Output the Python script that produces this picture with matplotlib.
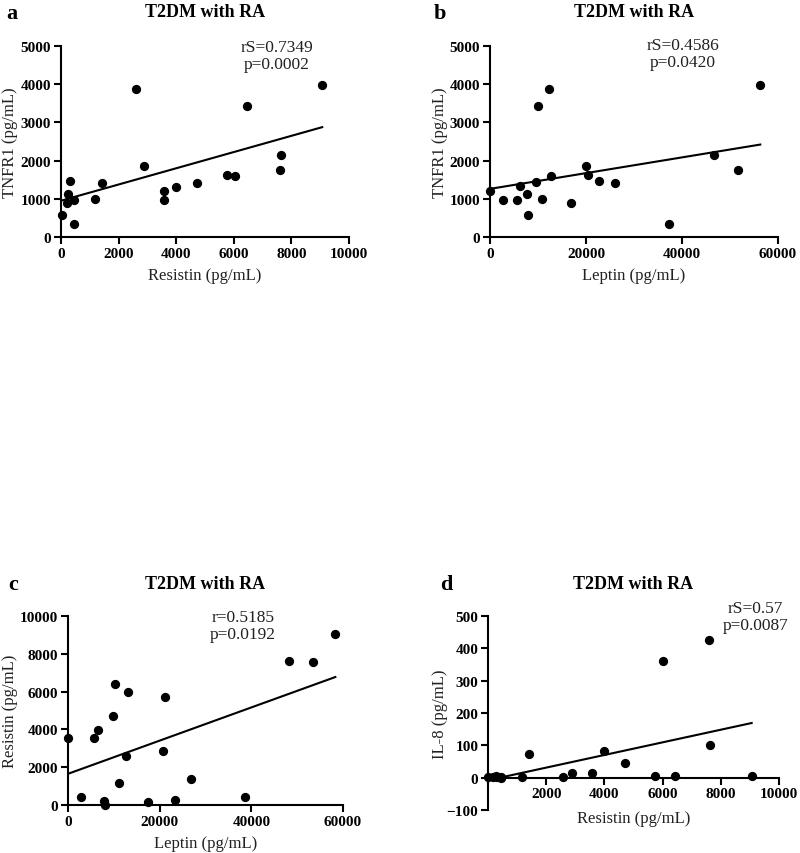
import matplotlib
matplotlib.use('Agg')
import matplotlib.pyplot as plt
import numpy as np

plt.rcParams['font.family'] = ['Liberation Serif', 'DejaVu Serif']

# panel a: TNFR1 vs Resistin
a_resistin = [20, 200, 250, 310, 450, 460, 1180, 1410, 2600, 2890, 3580, 3580,
              3990, 4730, 5750, 6030, 6450, 7600, 7640, 9070]
a_tnfr1 = [570, 897, 1132, 1472, 958, 348, 1002, 1402, 3876, 1847, 1193, 967,
           1315, 1420, 1620, 1603, 3423, 1742, 2152, 3972]
a_fit = (950, 0.2123)  # intercept, slope

# panel b: TNFR1 vs Leptin
b_leptin = [0, 2770, 5620, 6310, 7700, 7900, 9500, 9920, 10890, 12340, 12690,
            16920, 20040, 20460, 22680, 25940, 37310, 46670, 51660, 56310]
b_tnfr1 = [1202, 967, 976, 1324, 1132, 566, 1429, 3423, 1002, 3876, 1603,
           897, 1847, 1620, 1472, 1402, 348, 2152, 1742, 3972]
b_fit = (1260, 0.0206)

# panel c: Resistin vs Leptin
c_leptin = [0, 2760, 5750, 6470, 7850, 8150, 9750, 10250, 11200, 12580, 13020,
            17380, 20650, 21090, 23350, 26760, 38550, 48290, 53450, 58330]
c_resistin = [3526, 421, 3526, 3965, 228, 0, 4702, 6386, 1140, 2579, 5982,
              158, 2860, 5702, 281, 1368, 438, 7630, 7580, 9050]
c_fit = (1650, 0.0878)

# panel d: IL-8 vs Resistin
d_resistin = [0, 170, 260, 320, 435, 460, 1170, 1400, 2590, 2875, 3560, 3990,
              4720, 5740, 6010, 6430, 7580, 7630, 9060]
d_il8 = [2, 3, 5, 3, 0, 2, 2, 73, 3, 14, 15, 81, 46, 6, 360, 6, 427, 100, 4]
d_fit = (-8, 0.01954)

W, H = 800, 854
fig = plt.figure(figsize=(W / 100, H / 100), dpi=100)


def box(x0, x1, ytop, ybot):
    return [x0 / W, 1 - ybot / H, (x1 - x0) / W, (ybot - ytop) / H]


def panel(rect, x, y, fit, xlim, xticks, ylim, yticks, xlabel, ylabel,
          stat, stat_x, stat_y, ylab_x, xlab_y, title_y):
    ax = fig.add_axes(rect)
    ax.scatter(x, y, s=32, color='black', zorder=3, clip_on=False)
    xs = np.array([min(x), max(x)])
    ax.plot(xs, fit[0] + fit[1] * xs, color='black', lw=1.5, zorder=2)
    ax.set_xlim(*xlim)
    ax.set_ylim(*ylim)
    ax.set_xticks(xticks)
    ax.set_yticks(yticks)
    for s in ['top', 'right']:
        ax.spines[s].set_visible(False)
    for s in ['left', 'bottom']:
        ax.spines[s].set_linewidth(1.5)
    ax.tick_params(direction='out', length=5, width=1.5, labelsize=11, pad=2)
    for lab in ax.get_xticklabels() + ax.get_yticklabels():
        lab.set_fontweight('bold')
    ax.set_xlabel(xlabel, fontsize=12, color='#222222', va='center')
    ax.set_ylabel(ylabel, fontsize=12, color='#222222', va='center')
    ax.yaxis.set_label_coords(ylab_x, 0.5)
    ax.xaxis.set_label_coords(0.5, xlab_y)
    ax.text(stat_x, stat_y, stat, transform=ax.transAxes, ha='center', va='top',
            fontsize=12.5, color='#222222', linespacing=1.05)
    ax.text(0.5, title_y, 'T2DM with RA', transform=ax.transAxes, ha='center',
            va='center', fontsize=13, fontweight='bold')
    return ax


axa = panel(box(61, 349, 47, 238), a_resistin, a_tnfr1, a_fit,
            (0, 10000), range(0, 10001, 2000), (0, 5000), range(0, 5001, 1000),
            'Resistin (pg/mL)', 'TNFR1 (pg/mL)', 'rS=0.7349\np=0.0002',
            0.75, 1.035, -0.177, -0.2, 1.18)
axb = panel(box(490, 778, 47, 238), b_leptin, b_tnfr1, b_fit,
            (0, 60000), range(0, 60001, 20000), (0, 5000), range(0, 5001, 1000),
            'Leptin (pg/mL)', 'TNFR1 (pg/mL)', 'rS=0.4586\np=0.0420',
            0.67, 1.045, -0.174, -0.2, 1.18)
axc = panel(box(68, 343, 617, 806), c_leptin, c_resistin, c_fit,
            (0, 60000), range(0, 60001, 20000), (0, 10000), range(0, 10001, 2000),
            'Leptin (pg/mL)', 'Resistin (pg/mL)', 'r=0.5185\np=0.0192',
            0.636, 1.035, -0.21, -0.2, 1.17)
axd = panel(box(488, 779, 617, 811), d_resistin, d_il8, d_fit,
            (0, 10000), range(0, 10001, 2000), (-100, 500), range(-100, 501, 100),
            'Resistin (pg/mL)', 'IL-8 (pg/mL)', 'rS=0.57\np=0.0087',
            0.92, 1.08, -0.165, -0.04, 1.165)
axd.spines['bottom'].set_position(('data', 0))
axd.set_xticklabels(['', '2000', '4000', '6000', '8000', '10000'])
for lab in axd.get_xticklabels():
    lab.set_fontweight('bold')

for letter, (px, py) in zip('abcd', [(6, 14), (434, 14), (8, 585), (440, 585)]):
    fig.text(px / W, 1 - py / H, letter, fontsize=16, fontweight='bold',
             ha='left', va='center')

fig.savefig('out.png', dpi=100)
